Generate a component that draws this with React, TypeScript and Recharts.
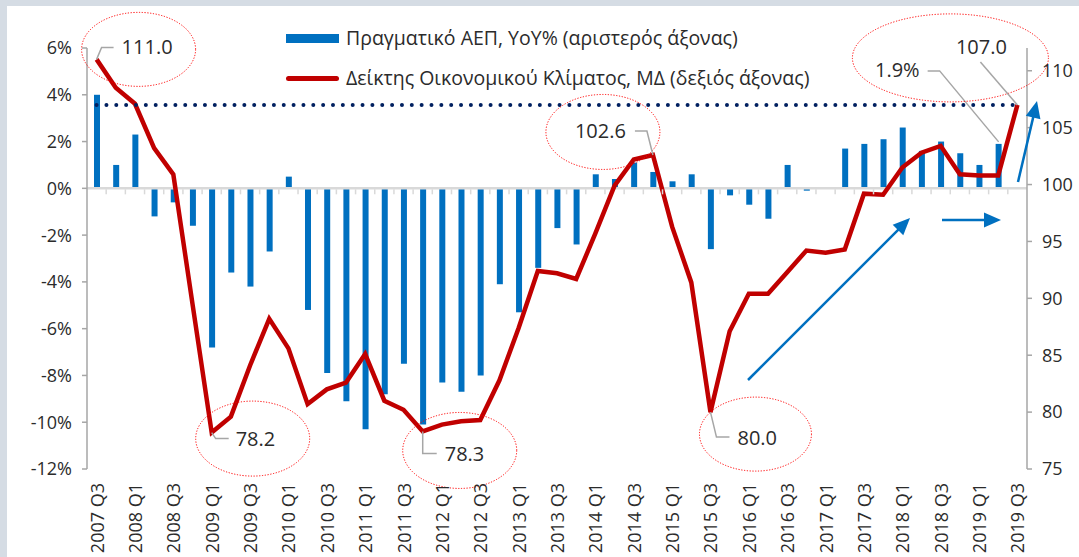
import React from 'react';
import { ComposedChart, Bar, Line, XAxis, YAxis, ReferenceLine, Rectangle } from 'recharts';

const quarters = [
  '2007 Q3', '2007 Q4',
  '2008 Q1', '2008 Q2', '2008 Q3', '2008 Q4',
  '2009 Q1', '2009 Q2', '2009 Q3', '2009 Q4',
  '2010 Q1', '2010 Q2', '2010 Q3', '2010 Q4',
  '2011 Q1', '2011 Q2', '2011 Q3', '2011 Q4',
  '2012 Q1', '2012 Q2', '2012 Q3', '2012 Q4',
  '2013 Q1', '2013 Q2', '2013 Q3', '2013 Q4',
  '2014 Q1', '2014 Q2', '2014 Q3', '2014 Q4',
  '2015 Q1', '2015 Q2', '2015 Q3', '2015 Q4',
  '2016 Q1', '2016 Q2', '2016 Q3', '2016 Q4',
  '2017 Q1', '2017 Q2', '2017 Q3', '2017 Q4',
  '2018 Q1', '2018 Q2', '2018 Q3', '2018 Q4',
  '2019 Q1', '2019 Q2', '2019 Q3',
];

// real GDP, YoY % (left axis)
const gdpYoY: (number | null)[] = [
  4.0, 1.0,
  2.3, -1.2, -0.6, -1.6,
  -6.8, -3.6, -4.2, -2.7,
  0.5, -5.2, -7.9, -9.1,
  -10.3, -8.8, -7.5, -10.1,
  -8.3, -8.7, -8.0, -4.1,
  -5.3, -3.4, -1.7, -2.4,
  0.6, 0.4, 1.1, 0.7,
  0.3, 0.6, -2.6, -0.3,
  -0.7, -1.3, 1.0, -0.1,
  0.0, 1.7, 1.9, 2.1,
  2.6, 1.6, 2.0, 1.5,
  1.0, 1.9, null,
];

// economic sentiment indicator, quarterly avg (right axis)
const esi = [
  111.0, 108.5,
  107.1, 103.2, 100.9, 89.5,
  78.2, 79.6, 84.1, 88.2,
  85.6, 80.7, 82.0, 82.6,
  85.1, 81.0, 80.2, 78.3,
  78.9, 79.2, 79.3, 82.8,
  87.4, 92.4, 92.2, 91.7,
  95.7, 99.9, 102.2, 102.6,
  96.3, 91.4, 80.0, 87.1,
  90.4, 90.4, 92.3, 94.2,
  94.0, 94.3, 99.2, 99.1,
  101.5, 102.8, 103.4, 100.9,
  100.8, 100.8, 107.0,
];

const leftTicks = [-12, -10, -8, -6, -4, -2, 0, 2, 4, 6];
const rightTicks = [75, 80, 85, 90, 95, 100, 105, 110];
const esiLatest = 107.0;

const legendNames = [
  'Πραγματικό ΑΕΠ, YoY% (αριστερός άξονας)',
  'Δείκτης Οικονομικού Κλίματος, ΜΔ (δεξιός άξονας)',
];

const data = quarters.map((q, i) => ({ q, gdp: gdpYoY[i], esi: esi[i] }));

const W = 1079;
const H = 557;
const PLOT_LEFT = 87;
const PLOT_RIGHT = 1027;
const PLOT_TOP = 48;
const PLOT_BOTTOM = 469;
const LEFT_MIN = -12;
const LEFT_MAX = 6;

const FONT = '"Open Sans", sans-serif';
const TEXT = '#2b2b2b';
const BLUE = '#0070c0';
const RED = '#c00000';
const GREY = '#a6a6a6';

// callout placement relative to the annotated point
type Note = {
  path: number[][];
  tx: number;
  ty: number;
  anchor: 'start' | 'end' | 'middle';
  ellipse?: number[];
};

const esiNotes: Record<number, Note> = {
  0: { path: [[0, 0], [5, -12], [17, -12]], tx: 25, ty: -13, anchor: 'start', ellipse: [42, -10, 57, 37] },
  6: { path: [[0, 0], [4, 6], [17, 6]], tx: 24, ty: 6, anchor: 'start', ellipse: [41, 6, 57, 37.5] },
  17: { path: [[0, 0], [0, 22], [14, 22]], tx: 22, ty: 22, anchor: 'start', ellipse: [37, 19, 57, 38] },
  29: { path: [[0, 0], [-6, -24], [-18, -24]], tx: -27, ty: -24, anchor: 'end', ellipse: [-50, -23, 57, 37.5] },
  32: { path: [[0, 0], [6, 25], [19, 25]], tx: 27, ty: 25, anchor: 'start', ellipse: [45, 22, 56, 37] },
  48: { path: [[0, 0], [-37, -43]], tx: -36, ty: -58, anchor: 'middle', ellipse: [-67, -47, 98, 44] },
};

const gdpNotes: Record<string, Note> = {
  '2019 Q2': { path: [[0, -2], [-59, -73], [-71, -73]], tx: -79, ty: -74, anchor: 'end' },
};

const renderNote = (note: Note, cx: number, cy: number, text: string) => (
  <g>
    {note.ellipse && (
      <ellipse
        cx={cx + note.ellipse[0]}
        cy={cy + note.ellipse[1]}
        rx={note.ellipse[2]}
        ry={note.ellipse[3]}
        fill="none"
        stroke="#ff0000"
        strokeWidth={1}
        strokeDasharray="1.2 1.6"
      />
    )}
    <polyline
      points={note.path.map(([dx, dy]) => `${cx + dx},${cy + dy}`).join(' ')}
      fill="none"
      stroke={GREY}
      strokeWidth={1.5}
    />
    <text
      x={cx + note.tx}
      y={cy + note.ty}
      textAnchor={note.anchor}
      dominantBaseline="central"
      fontFamily={FONT}
      fontSize={20}
      fill={TEXT}
    >
      {text}
    </text>
  </g>
);

const EsiDot = (props: any) => {
  const { cx, cy, index, value } = props;
  const note = esiNotes[index];
  if (!note) return <g key={`d${index}`} />;
  return <g key={`d${index}`}>{renderNote(note, cx, cy, Number(value).toFixed(1))}</g>;
};

// bar with its optional callout
const GdpBar = (props: any) => {
  const { x, y, width, height, fill, payload } = props;
  const note = payload ? gdpNotes[payload.q] : undefined;
  return (
    <g>
      <Rectangle x={x} y={y} width={width} height={height} fill={fill} />
      {note && payload.gdp != null && renderNote(note, x + width / 2, y, `${Number(payload.gdp).toFixed(1)}%`)}
    </g>
  );
};

const QuarterTick = (props: any) => {
  const { x, payload, index } = props;
  const band = (PLOT_RIGHT - PLOT_LEFT) / quarters.length;
  const zeroY = PLOT_TOP + ((LEFT_MAX - 0) / (LEFT_MAX - LEFT_MIN)) * (PLOT_BOTTOM - PLOT_TOP);
  const bx = x - band / 2;
  return (
    <g>
      {index > 0 && (
        <line x1={bx} x2={bx} y1={zeroY + 1} y2={zeroY + 6} stroke="#d9d9d9" strokeWidth={1.5} />
      )}
      {index % 2 === 0 && (
        <text
          x={x}
          y={483}
          transform={`rotate(-90, ${x}, 483)`}
          textAnchor="end"
          dominantBaseline="central"
          fontFamily={FONT}
          fontSize={18}
          fill={TEXT}
        >
          {payload.value}
        </text>
      )}
    </g>
  );
};

const Arrow = ({ x1, y1, x2, y2 }: { x1: number; y1: number; x2: number; y2: number }) => {
  const len = Math.hypot(x2 - x1, y2 - y1);
  const ux = (x2 - x1) / len;
  const uy = (y2 - y1) / len;
  const head = 17;
  const half = 7.5;
  const bx = x2 - ux * head;
  const by = y2 - uy * head;
  return (
    <g>
      <line x1={x1} y1={y1} x2={bx + ux * 2} y2={by + uy * 2} stroke={BLUE} strokeWidth={2.5} />
      <polygon
        points={`${x2},${y2} ${bx - uy * half},${by + ux * half} ${bx + uy * half},${by - ux * half}`}
        fill={BLUE}
      />
    </g>
  );
};

export default function App() {
  return (
    <div style={{ position: 'absolute', left: 0, top: 0, width: W, height: H, background: '#d5dce4', overflow: 'hidden' }}>
      <div style={{ position: 'absolute', left: 7, top: 6, right: 0, bottom: 0, background: '#ffffff' }} />
      <div style={{ position: 'absolute', left: 0, top: 0 }}>
        <ComposedChart
          width={W}
          height={H}
          data={data}
          margin={{ top: PLOT_TOP, right: 0, bottom: 0, left: 0 }}
          barCategoryGap={0}
        >
          <XAxis
            dataKey="q"
            xAxisId="x"
            interval={0}
            height={H - PLOT_BOTTOM}
            axisLine={false}
            tickLine={false}
            tick={<QuarterTick />}
          />
          <YAxis
            yAxisId="left"
            orientation="left"
            width={PLOT_LEFT}
            domain={[LEFT_MIN, LEFT_MAX]}
            ticks={leftTicks}
            tickFormatter={(v: number) => `${v}%`}
            axisLine={{ stroke: GREY, strokeWidth: 1.5 }}
            tickLine={{ stroke: GREY, strokeWidth: 1.5 }}
            tickSize={5}
            tickMargin={10}
            tick={{ fill: TEXT, fontSize: 18, fontFamily: FONT }}
          />
          <YAxis
            yAxisId="right"
            orientation="right"
            width={W - PLOT_RIGHT}
            domain={[75, 112]}
            ticks={rightTicks}
            axisLine={{ stroke: GREY, strokeWidth: 1.5 }}
            tickLine={{ stroke: GREY, strokeWidth: 1.5 }}
            tickSize={5}
            tickMargin={10}
            tick={{ fill: TEXT, fontSize: 18, fontFamily: FONT }}
          />
          <ReferenceLine yAxisId="left" xAxisId="x" y={0} stroke="#d9d9d9" strokeWidth={2.5} />
          <Bar
            dataKey="gdp"
            xAxisId="x"
            yAxisId="left"
            fill={BLUE}
            barSize={6}
            shape={<GdpBar />}
            isAnimationActive={false}
          />
          <Line
            dataKey="esi"
            xAxisId="x"
            yAxisId="right"
            type="linear"
            stroke={RED}
            strokeWidth={4.5}
            dot={<EsiDot />}
            activeDot={false}
            isAnimationActive={false}
          />
          <ReferenceLine
            xAxisId="x"
            yAxisId="right"
            segment={[
              { x: quarters[0], y: esiLatest },
              { x: quarters[quarters.length - 1], y: esiLatest },
            ]}
            stroke="#002060"
            strokeWidth={4}
            strokeDasharray="0 9.85"
            strokeLinecap="round"
          />
        </ComposedChart>
      </div>
      <svg width={W} height={H} style={{ position: 'absolute', left: 0, top: 0, pointerEvents: 'none' }}>
        <Arrow x1={748} y1={380} x2={910} y2={218} />
        <Arrow x1={942} y1={220} x2={1001} y2={220} />
        <Arrow x1={1018} y1={182} x2={1037} y2={101} />
      </svg>
      <div style={{ position: 'absolute', left: 286, top: 24, fontFamily: FONT, fontSize: 19.5, color: TEXT, lineHeight: '28px' }}>
        <div style={{ display: 'flex', alignItems: 'center', height: 28 }}>
          <span style={{ display: 'inline-block', width: 53, height: 9, background: BLUE, marginRight: 7 }} />
          <span>{legendNames[0]}</span>
        </div>
        <div style={{ display: 'flex', alignItems: 'center', height: 28, marginTop: 12 }}>
          <span style={{ display: 'inline-block', width: 53, height: 5, background: RED, borderRadius: 3, marginRight: 7 }} />
          <span>{legendNames[1]}</span>
        </div>
      </div>
    </div>
  );
}
